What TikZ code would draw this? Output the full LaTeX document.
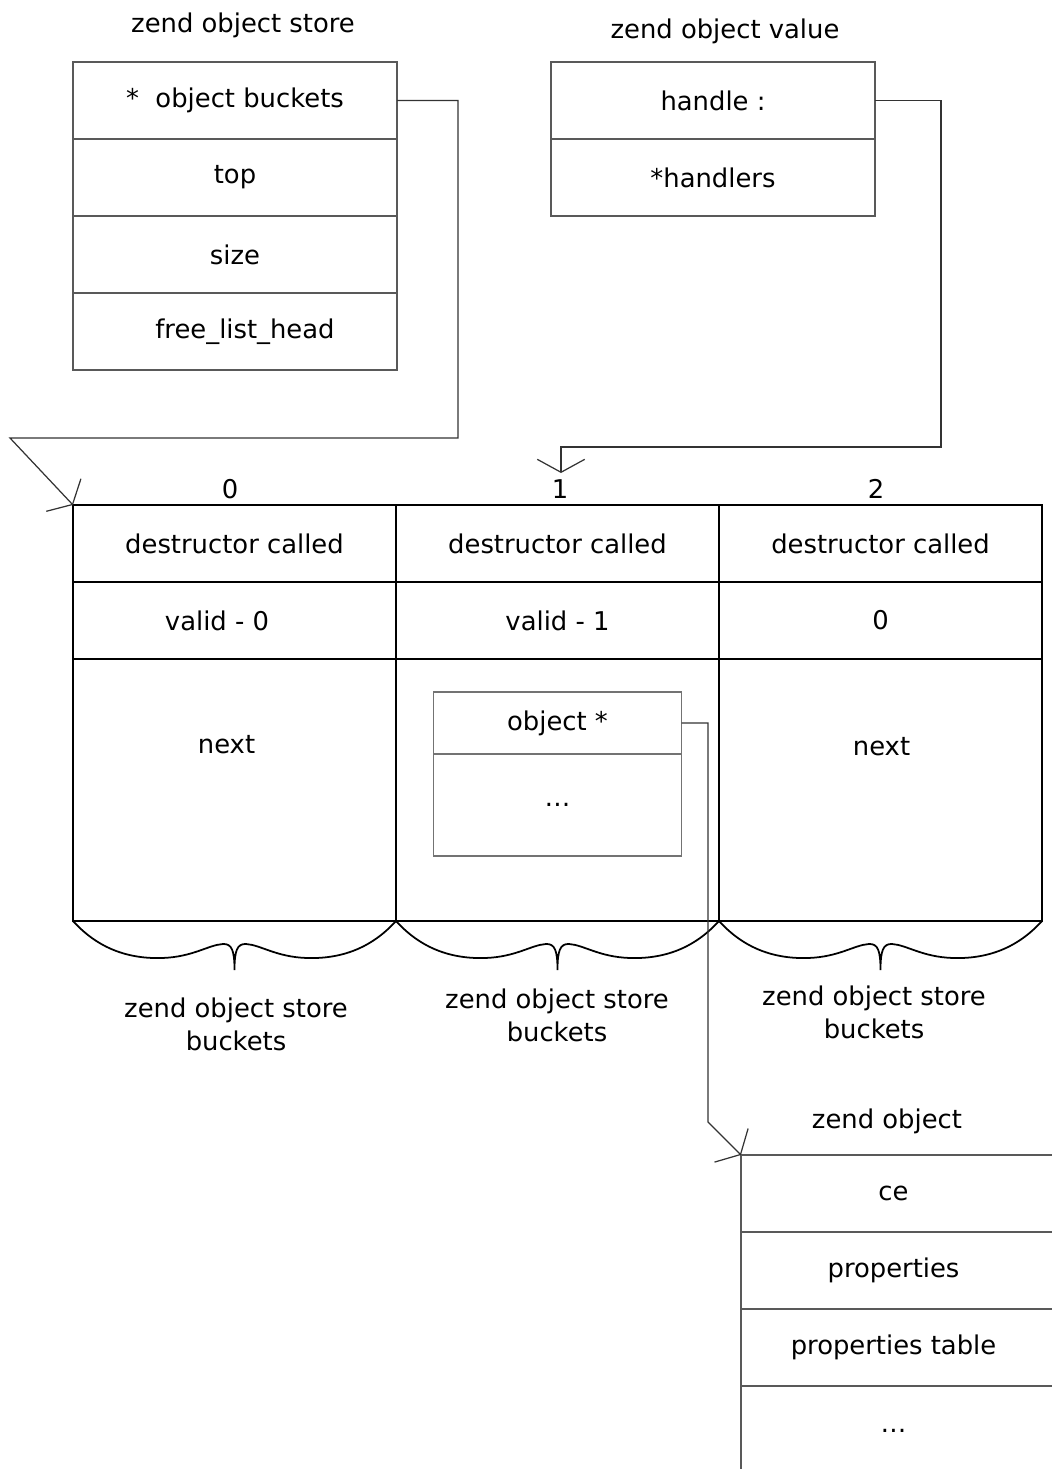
\documentclass[tikz,border=0pt]{standalone}
\usepackage{fontspec}
\setmainfont{DejaVu Sans}
\usepackage{tikz}
\usetikzlibrary{arrows.meta, positioning, calc}
\tikzset{
    field/.style={
        rectangle,
        draw=black!65,
        line width=0.7pt,
        minimum width=6.48cm,
        minimum height=1.54cm,
        inner sep=0pt,
        outer sep=0pt,
    },
    bucket/.style={
        rectangle,
        draw=black,
        line width=1pt,
        minimum width=6.46cm,
        minimum height=1.54cm,
        inner sep=0pt,
        outer sep=0pt,
    },
    title/.style={
        align=center,
        inner sep=1pt,
    },
    bucketbrace/.pic={
        \draw[line width=1pt] (0,0) .. controls (0.5,-0.55) and (1.1,-0.76) .. (1.78,-0.74)
            .. controls (2.4,-0.72) and (2.7,-0.48) .. (3.0,-0.46)
            .. controls (3.18,-0.45) and (3.23,-0.6) .. (3.23,-0.98)
            .. controls (3.23,-0.6) and (3.28,-0.45) .. (3.46,-0.46)
            .. controls (3.76,-0.48) and (4.06,-0.72) .. (4.68,-0.74)
            .. controls (5.36,-0.76) and (5.96,-0.55) .. (6.46,0);
    },
}

\begin{document}
\begin{tikzpicture}[>={Straight Barb[length=2.6mm,width=9.5mm]},
    every node/.style={font=\fontsize{14.7}{18.7}\selectfont},
    link/.style={draw=black!80, line width=0.7pt}]
          \useasboundingbox (0,0) rectangle (21.04,-29.38);

          % object store
          \node [title] (storetitle) at (4.86,-0.50) {zend object store};
          \node [field] (sb0) at (4.70,-2.01) {\raisebox{-2pt}{*\ \ object buckets}};
          \node [field] (sb1) [below=0pt of sb0] {top};
          \node [field] (sb2) [below=0pt of sb1] {size};
          \node [field] (sb3) [below=0pt of sb2] {\hspace{0.4cm}free\_list\_head};

          % object value
          \node [title] (valuetitle) at (14.50,-0.62) {zend object value};
          \node [field] (vh) at (14.26,-2.01) {handle :};
          \node [field] (vs) [below=0pt of vh] {*handlers};

          % buckets
          \node [bucket] (dc0) at (4.69,-10.87) {destructor called};
          \node [bucket] (dc1) [right=0pt of dc0] {destructor called};
          \node [bucket] (dc2) [right=0pt of dc1] {destructor called};
          \node [bucket] (vl0) [below=0pt of dc0] {\hspace{-0.7cm}valid - 0};
          \node [bucket] (vl1) [below=0pt of dc1] {valid - 1};
          \node [bucket] (vl2) [below=0pt of dc2] {0};
          \foreach \i in {0,1,2}
              \node [bucket, minimum height=5.24cm] (nx\i) [below=0pt of vl\i] {};
          \node (nt0) at ([xshift=-0.16cm,yshift=-1.72cm]nx0.north) {next};
          \node (nt2) at ([xshift=0.02cm,yshift=-1.76cm]nx2.north) {next};

          \node (ix0) at (4.60,-9.78) {0};
          \node (ix1) at (11.20,-9.78) {1};
          \node (ix2) at (17.52,-9.78) {2};

          % record inside bucket 1
          \node [field, draw=black!55, minimum width=4.96cm, minimum height=1.24cm] (ob) [below=0.66cm of nx1.north] {object *};
          \node [field, draw=black!55, minimum width=4.96cm, minimum height=2.04cm] (od) [below=0pt of ob] {\ldots};

          \foreach \i in {0,1,2}
              \pic at (nx\i.south west) {bucketbrace};
          \node [title] (bl0) at (4.72,-20.49) {zend object store\\buckets};
          \node [title] (bl1) at (11.14,-20.31) {zend object store\\buckets};
          \node [title] (bl2) at (17.48,-20.25) {zend object store\\buckets};

          % zend object
          \node [title] (objtitle) at (17.74,-22.42) {zend object};
          \node [field, minimum width=6.3cm, anchor=north west] (zo0) at (14.82,-23.10) {\hspace{-0.2cm}ce};
          \node [field, minimum width=6.3cm] (zo1) [below=0pt of zo0] {\hspace{-0.2cm}properties};
          \node [field, minimum width=6.3cm] (zo2) [below=0pt of zo1] {\hspace{-0.2cm}properties table};
          \node [field, minimum width=6.3cm, minimum height=1.8cm] (zo3) [below=0pt of zo2] {\hspace{-0.2cm}\ldots};

          % links
          \coordinate (c1) at (0.20,-8.76);
          \coordinate (c2) at (11.22,-8.94);
          \coordinate (tipv) at (11.22,-9.46);
          \coordinate (c3) at (14.16,-22.44);
          \draw[link,->] (sb0.east) -- ++(1.22,0) |- (c1) -- (dc0.north west);
          \draw[link,->] (vh.east) -- ++(1.32,0) |- (c2) -- (tipv);
          \draw[link,->] (ob.east) -| (c3) -- (zo0.north west);
        \end{tikzpicture}
\end{document}
